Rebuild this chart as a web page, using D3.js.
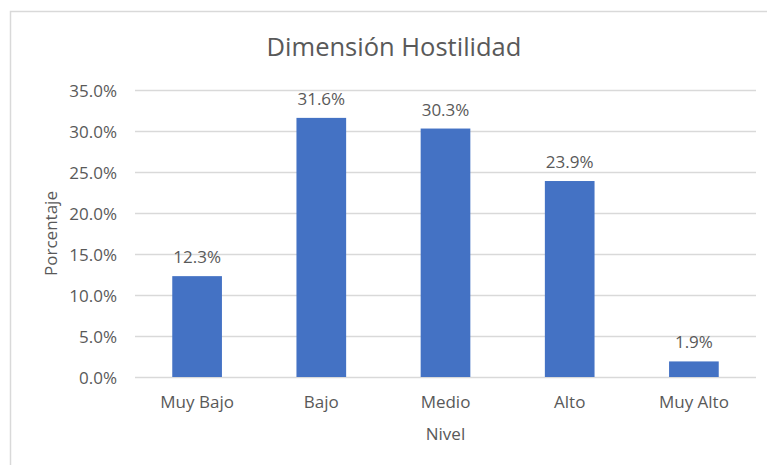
<!DOCTYPE html>
<html>
<head>
<meta charset="utf-8">
<script src="https://cdn.jsdelivr.net/npm/d3@7"></script>
<style>
  body { margin: 0; background: #fff; }
  text { font-family: "Open Sans", "Noto Sans", sans-serif; fill: #595959; }
</style>
</head>
<body>
<div id="chart"></div>
<script>
// data
const niveles = ["Muy Bajo", "Bajo", "Medio", "Alto", "Muy Alto"];
const porcentajes = [12.3, 31.6, 30.3, 23.9, 1.9];
const yTicks = [0, 5, 10, 15, 20, 25, 30, 35];

const width = 767, height = 465;
const plot = {left: 135, right: 756, top: 90, bottom: 377};

const svg = d3.select("#chart").append("svg")
  .attr("width", width)
  .attr("height", height);

// chart area border (runs off right/bottom edge)
svg.append("rect")
  .attr("x", 10.5).attr("y", 11.5)
  .attr("width", 800).attr("height", 500)
  .attr("fill", "#fff")
  .attr("stroke", "#d9d9d9")
  .attr("stroke-width", 1.5);

let x = d3.scaleBand()
  .domain(niveles)
  .range([plot.left, plot.right])
  .paddingInner(0.6)
  .paddingOuter(0.3);

let y = d3.scaleLinear()
  .domain([0, 35])
  .range([plot.bottom, plot.top]);

// gridlines
svg.append("g")
  .selectAll("line")
  .data(yTicks)
  .join("line")
  .attr("x1", plot.left).attr("x2", plot.right)
  .attr("y1", d => Math.round(y(d)) + 0.5)
  .attr("y2", d => Math.round(y(d)) + 0.5)
  .attr("stroke", "#d9d9d9")
  .attr("stroke-width", 1.3);

// y tick labels
let yAxis = svg.append("g")
  .attr("transform", `translate(${plot.left - 18},0)`)
  .call(d3.axisLeft(y).tickValues(yTicks).tickSize(0).tickPadding(0)
    .tickFormat(d => d.toFixed(1) + "%"));
yAxis.select(".domain").remove();
yAxis.selectAll("text")
  .attr("font-size", 17)
  .attr("font-family", null)
  .attr("fill", null)
  .attr("dy", "0.36em");

// bars
svg.append("g")
  .selectAll("rect")
  .data(porcentajes)
  .join("rect")
  .attr("x", (d, i) => x(niveles[i]))
  .attr("width", x.bandwidth())
  .attr("y", d => y(d))
  .attr("height", d => y(0) - y(d))
  .attr("fill", "#4472c4");

// data labels
svg.append("g")
  .selectAll("text")
  .data(porcentajes)
  .join("text")
  .attr("x", (d, i) => x(niveles[i]) + x.bandwidth() / 2)
  .attr("y", d => y(d) - 13)
  .attr("text-anchor", "middle")
  .attr("font-size", 17)
  .text(d => d.toFixed(1) + "%");

// x category labels
let xAxis = svg.append("g")
  .attr("transform", `translate(0,${plot.bottom})`)
  .call(d3.axisBottom(x).tickSize(0).tickPadding(0));
xAxis.select(".domain").remove();
xAxis.selectAll("text")
  .attr("font-size", 17)
  .attr("font-family", null)
  .attr("fill", null)
  .attr("dy", null)
  .attr("y", 31);

// titles
svg.append("text")
  .attr("x", 394).attr("y", 56)
  .attr("text-anchor", "middle")
  .attr("font-size", 25.5)
  .text("Dimensión Hostilidad");

svg.append("text")
  .attr("x", (plot.left + plot.right) / 2).attr("y", 440)
  .attr("text-anchor", "middle")
  .attr("font-size", 17)
  .text("Nivel");

svg.append("text")
  .attr("transform", `translate(57,${(plot.top + plot.bottom) / 2}) rotate(-90)`)
  .attr("text-anchor", "middle")
  .attr("font-size", 17)
  .text("Porcentaje");
</script>
</body>
</html>
